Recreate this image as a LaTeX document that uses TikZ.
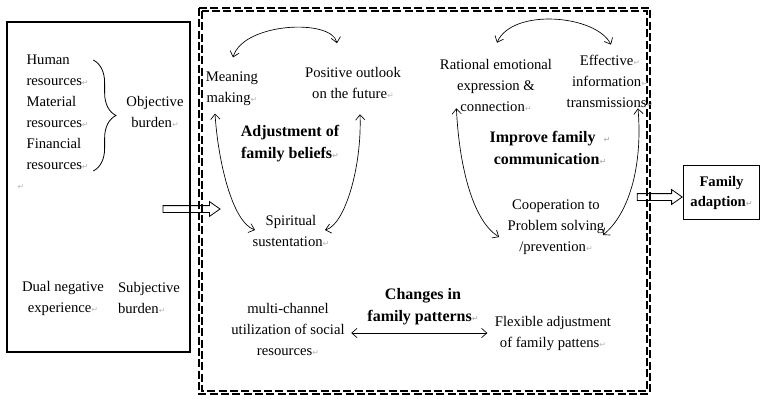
\documentclass[tikz,border=0pt]{standalone}
\usepackage{fontspec}
\setmainfont{Liberation Serif}
\newfontfamily\symfont{DejaVu Sans}
\usetikzlibrary{arrows.meta,shapes.arrows,decorations.pathreplacing}
\newcommand{\pmark}{{\symfont\fontsize{6}{6}\selectfont\textcolor{gray!55}{↵}}}
\tikzset{
  lbl/.style={align=center,inner sep=1pt,font=\fontsize{11}{15.75}\selectfont},
  head/.style={lbl,font=\fontsize{12}{16.5}\selectfont\bfseries},
  cyc/.style={<->,>={Straight Barb[length=4pt,width=7pt]},line width=0.5pt},
  dashbox/.style={line width=0.85pt,dash pattern=on 6pt off 2.5pt},
  hollow/.style={single arrow,draw,line width=0.6pt,inner xsep=0pt,inner ysep=2.25pt,
    single arrow head extend=3pt,single arrow tip angle=70},
}
\begin{document}
\begin{tikzpicture}[x=0.75pt,y=-0.75pt]
\useasboundingbox (0,0) rectangle (761,403);
\node[draw,line width=0.9pt,minimum width=137.25pt,minimum height=247.5pt,inner sep=0pt] (lb) at (98.5,187) {};
\draw[dashbox] (199,8) rectangle (650,394);
\draw[dashbox] (202,11) rectangle (647,391);
\node[draw,line width=0.9pt,minimum width=57pt,minimum height=41pt,head,font=\fontsize{11}{15}\selectfont\bfseries] (fa) at (721.5,192.5) {Family\\adaption\pmark};
\node[hollow,minimum height=42.75pt] (a1) at ([shift={(-1.5,22)}]lb.east) {};
\node[hollow,minimum height=33.75pt,anchor=east] (a2) at ([shift={(0,4.5)}]fa.west) {};

\node[lbl,align=left,anchor=west] (hr) at (25,112) {Human\\resources\pmark\\Material\\resources\pmark\\Financial\\resources\pmark};
\node[lbl] (ob) at (155,112) {Objective\\burden\pmark};
\node[lbl] (rm) at (21,187) {\pmark};
\node[lbl] (dn) at (63,298) {Dual negative\\experience\pmark};
\node[lbl,align=left] (sb) at (149,298) {Subjective\\burden\pmark};
\draw[decorate,decoration={brace,amplitude=17pt},line width=0.6pt] ([shift={(3,7)}]hr.north east) -- ([shift={(3,0)}]hr.south east);

\node[lbl] (mm) at (232,89) {Meaning\\making\pmark};
\node[lbl] (po) at (353,82.5) {Positive outlook\\on the future\pmark};
\node[head] (af) at (290,144) {Adjustment of\\family beliefs\pmark};
\node[lbl] (ss) at (291,231) {Spiritual\\sustentation\pmark};
\draw[cyc] ([shift={(1,-13)}]mm.north) .. controls +(10,-35) and +(-5,-25) .. ([shift={(-16,-22)}]po.north);
\draw[cyc] ([shift={(-17,6)}]mm.south) .. controls +(3,47) and +(-23,-8) .. ([shift={(4,-1)}]ss.west);
\draw[cyc] ([shift={(-6,-1)}]ss.east) .. controls +(20,-5) and +(2,52) .. ([shift={(7,14.5)}]po.south);

\node[lbl] (re) at (496,85) {Rational emotional\\expression \&\\connection\pmark};
\node[lbl] (ei) at (610,81) {Effective\pmark\\information\pmark\\transmissions\pmark};
\node[head] (ic) at (550,148) {Improve family ~\pmark\\communication\pmark};
\node[lbl] (cp) at (556,227) {Cooperation to\\Problem solving\\/prevention\pmark};
\draw[cyc] ([shift={(1,-14.5)}]re.north) .. controls +(15,-35) and +(-15,-30) .. ([shift={(1,-8.5)}]ei.north);
\draw[cyc] ([shift={(18,-4.5)}]re.south west) .. controls +(3,62) and +(-25,-15) .. ([shift={(-7,10)}]cp.west);
\draw[cyc] ([shift={(28,-0.5)}]ei.south) .. controls +(5,60) and +(25,-20) .. ([shift={(-3,8)}]cp.east);

\node[head] (cf) at (423,307) {Changes in\\family patterns\pmark};
\node[lbl] (mc) at (288,329) {multi-channel\\utilization of social\\resources\pmark};
\node[lbl] (fl) at (553,333) {Flexible adjustment\\of family pattens\pmark};
\draw[cyc] ([shift={(5,4)}]mc.east) -- ([shift={(-6,0)}]fl.west);
\end{tikzpicture}
\end{document}
